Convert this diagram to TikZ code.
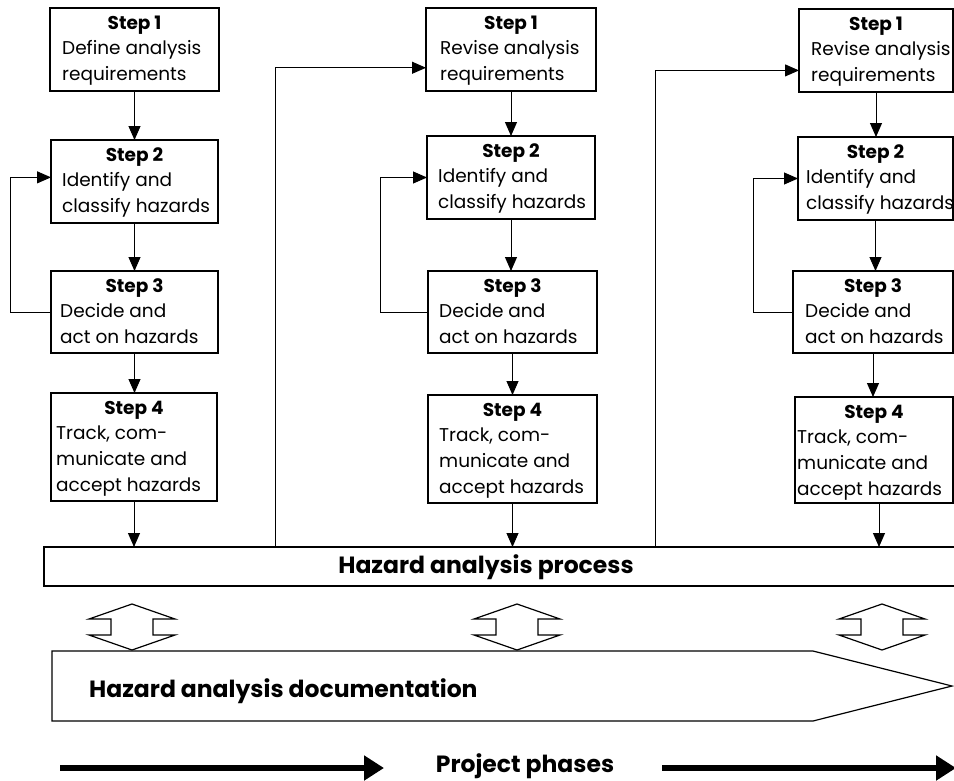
\documentclass[tikz,border=0pt]{standalone}
\usepackage{fontspec}
\setmainfont{Poppins}
\usetikzlibrary{arrows.meta,calc,shadows}

\tikzset{
  stepbox/.style={draw, fill=white, line width=1.1pt, inner sep=0pt, outer sep=0pt,
    drop shadow={shadow xshift=0.9pt, shadow yshift=-0.9pt, fill=black, opacity=1}},
  barbox/.style={draw, line width=1.5pt, inner sep=0pt, outer sep=0pt},
  steptitle/.style={font=\fontsize{18.5}{22}\selectfont\bfseries, inner sep=0pt, anchor=base},
  steptext/.style={font=\fontsize{18.5}{22}\selectfont, inner sep=0pt, anchor=base west},
  bigtext/.style={font=\fontsize{23.5}{28}\selectfont\bfseries, inner sep=0pt},
  flow/.style={line width=1pt, -{Triangle[length=14pt,width=12pt]}},
  outline/.style={line width=1.2pt, line join=miter},
  phase/.style={line width=5.5pt, -{Triangle[length=20pt,width=24pt]}},
}

% one process step: name, left, top, right, bottom, number, text x, lines
\newcommand\hzstep[8]{%
  \node[stepbox, anchor=north west,
        minimum width={(#4-#2)*1pt}, minimum height={(#5-#3)*1pt}] (#1) at (#2,#3) {};
  \node[steptitle] (#1t) at ($(#1.north)+(0,21)$) {Step #6};
  \foreach \txt [count=\i] in {#8}
    \node[steptext] (#1l\i) at (#7,{#3+21+25.7*\i}) {\txt};
}

% vertical two-headed hollow arrow centred on x
\newcommand\hzswap[1]{%
  \draw[outline] (#1,604) -- (#1-43,619) -- (#1-21,619) -- (#1-21,635) -- (#1-43,635)
    -- (#1,650) -- (#1+43,635) -- (#1+21,635) -- (#1+21,619) -- (#1+43,619) -- cycle;
}

\begin{document}
\begin{tikzpicture}[x=1pt,y=-1pt]
\useasboundingbox (0,0) rectangle (954,780);
\clip (0,0) rectangle (954,780);

% first cycle
\hzstep{c1s1}{50}{8}{219}{91}{1}{62}{Define analysis, requirements}
\hzstep{c1s2}{51}{140}{218}{223}{2}{62}{Identify and, classify hazards}
\hzstep{c1s3}{51}{271}{218}{353}{3}{60}{Decide and, act on hazards}
\hzstep{c1s4}{51}{393}{217}{501}{4}{56}{{Track, com-}, municate and, accept hazards}

% second cycle
\hzstep{c2s1}{426}{8}{596}{91}{1}{440}{Revise analysis, requirements}
\hzstep{c2s2}{427}{136}{595}{219}{2}{438}{Identify and, classify hazards}
\hzstep{c2s3}{428}{271}{597}{353}{3}{439}{Decide and, act on hazards}
\hzstep{c2s4}{428}{395}{597}{503}{4}{439}{{Track, com-}, municate and, accept hazards}

% third cycle
\hzstep{c3s1}{799}{9}{953}{92}{1}{811}{Revise analysis, requirements}
\hzstep{c3s2}{798}{137}{953}{220}{2}{806}{Identify and, classify hazards}
\hzstep{c3s3}{793}{271}{953}{353}{3}{805}{Decide and, act on hazards}
\hzstep{c3s4}{795}{397}{953}{503}{4}{797}{{Track, com-}, municate and, accept hazards}

% process bar
\node[barbox, anchor=north west, minimum width=930pt, minimum height=39pt]
  (bar) at (44,547) {};
\node[bigtext] (bart) at (486,567) {Hazard analysis process};

% step sequence within each cycle
\foreach \c/\dx in {c1/0,c2/0,c3/5} {
  \draw[flow] (\c s1.south) -- (\c s1.south |- \c s2.north);
  \draw[flow] (\c s2.south) -- (\c s2.south |- \c s3.north);
  \draw[flow] (\c s3.south) -- (\c s3.south |- \c s4.north);
  \draw[flow] ($(\c s4.south)+(\dx,0)$) -- ($(\c s4.south |- bar.north)+(\dx,0)$);
}

% iteration loops from step 3 back to step 2
\draw[flow] (c1s3.west) -- ++(-41,0) |- ($(c1s2.north west)!0.45!(c1s2.south west)$);
\draw[flow] (c2s3.west) -- ++(-48,0) |- (c2s2.west);
\draw[flow] (c3s3.west) -- ++(-40,0) |- (c3s2.west);

% feedback from the process into the next cycle
\coordinate (r2) at (275,547);
\coordinate (r3) at (655,547);
\draw[flow] (r2) |- ($(c2s1.north west)!0.72!(c2s1.south west)$);
\draw[flow] (r3) |- ($(c3s1.north west)!0.74!(c3s1.south west)$);

% exchange between process and documentation
\hzswap{132}
\hzswap{517}
\hzswap{882}

% documentation band
\draw[outline] (52,651) -- (813,651) -- (952,686) -- (813,721) -- (52,721) -- cycle;
\node[bigtext, anchor=west] (doc) at (89,691) {Hazard analysis documentation};

% project phases
\node[bigtext] (proj) at (525,766) {Project phases};
\coordinate (pa) at (60,768);
\coordinate (pb) at (384,768);
\coordinate (pc) at (662,768);
\coordinate (pd) at (956,768);
\draw[phase] (pa) -- (pb);
\draw[phase] (pc) -- (pd);
\end{tikzpicture}
\end{document}
